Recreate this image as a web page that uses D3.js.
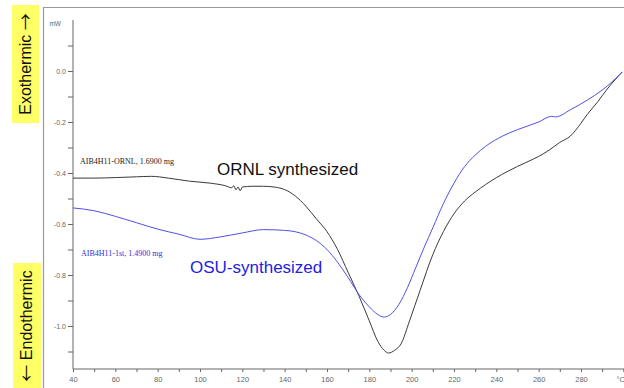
<!DOCTYPE html>
<html><head><meta charset="utf-8">
<script src="https://cdn.jsdelivr.net/npm/d3@7"></script>
<style>body{margin:0;background:#fff}svg{display:block}</style>
</head><body>
<svg id="c" width="624" height="388"></svg>
<script>
const ornlTemp = [40,50,60,70,77,85,95,105,112,115,116,117,118,119,120,125,130,135,140,145,150,155,160,165,170,175,180,184,187,189,192,195,199,204,210,215,220,225,230,235,245,255,260,265,270,275,280,283,288,292,296,299.5];
const ornlVal  = [-0.42,-0.42,-0.418,-0.415,-0.413,-0.42,-0.432,-0.44,-0.45,-0.458,-0.45,-0.466,-0.455,-0.47,-0.455,-0.452,-0.452,-0.455,-0.465,-0.49,-0.53,-0.58,-0.63,-0.7,-0.79,-0.88,-0.98,-1.06,-1.095,-1.106,-1.095,-1.07,-0.98,-0.86,-0.72,-0.63,-0.56,-0.51,-0.475,-0.445,-0.395,-0.355,-0.335,-0.31,-0.28,-0.255,-0.205,-0.17,-0.12,-0.075,-0.035,-0.004];
const osuTemp = [40,50,60,70,80,90,100,110,120,130,140,150,155,160,165,170,175,180,184,187,190,194,198,202,206,210,215,220,225,230,235,243,250,260,266,268,275,283,290,295,299.5];
const osuVal  = [-0.537,-0.548,-0.57,-0.595,-0.62,-0.64,-0.66,-0.65,-0.635,-0.622,-0.625,-0.643,-0.665,-0.7,-0.75,-0.81,-0.875,-0.925,-0.955,-0.965,-0.955,-0.915,-0.85,-0.77,-0.69,-0.615,-0.52,-0.44,-0.375,-0.33,-0.295,-0.255,-0.23,-0.2,-0.178,-0.18,-0.152,-0.114,-0.075,-0.04,-0.004];
const xTickValues = [40,50,60,70,80,90,100,110,120,130,140,150,160,170,180,190,200,210,220,230,240,250,260,270,280,290,300];
const xTickLabels = {40:"40",60:"60",80:"80",100:"100",120:"120",140:"140",160:"160",180:"180",200:"200",220:"220",240:"240",260:"260",280:"280",300:"°C"};
const yTickValues = [0.1,0.0,-0.1,-0.2,-0.3,-0.4,-0.5,-0.6,-0.7,-0.8,-0.9,-1.0,-1.1];
const yTickLabels = {"0.0":"0.0","-0.2":"-0.2","-0.4":"-0.4","-0.6":"-0.6","-0.8":"-0.8","-1.0":"-1.0"};

const svg = d3.select("#c");
const x = d3.scaleLinear().domain([40,300]).range([73,623.3]);
const y = d3.scaleLinear().domain([-1.0,0]).range([326,71]);
const sans = "Arial, 'Liberation Sans', sans-serif";

// side yellow labels
svg.append("rect").attr("x",12).attr("y",5).attr("width",27).attr("height",118).attr("fill","#ffff66");
const t1 = svg.append("text").attr("transform","translate(31,64) rotate(-90)").attr("text-anchor","middle")
  .attr("font-family",sans).attr("font-size",16).attr("fill","#111");
t1.append("tspan").text("Exothermic ");
t1.append("tspan").attr("font-family","'Noto Sans CJK SC', 'DejaVu Sans'").attr("font-size",17).attr("dy",1).text("\u2192");
svg.append("rect").attr("x",13).attr("y",263).attr("width",28).attr("height",125).attr("fill","#ffff66");
const t2 = svg.append("text").attr("transform","translate(32,326) rotate(-90)").attr("text-anchor","middle")
  .attr("font-family",sans).attr("font-size",16).attr("fill","#111");
t2.append("tspan").attr("font-family","'Noto Sans CJK SC', 'DejaVu Sans'").attr("font-size",17).attr("dy",1).text("\u2190");
t2.append("tspan").attr("dy",-1).text(" Endothermic");

// frame
svg.append("path").attr("d","M43.5,390 V7.5 H626").attr("fill","none").attr("stroke","#999").attr("stroke-width",1.2);

// axes
const yAxis = d3.axisLeft(y).tickValues(yTickValues).tickSize(5)
  .tickFormat(d => { const k = d.toFixed(1); return yTickLabels[k] || ""; });
const gy = svg.append("g").attr("transform","translate(73,0)").call(yAxis);
gy.select(".domain").remove();
gy.selectAll(".tick line").attr("stroke","#666");
gy.selectAll(".tick text").attr("font-family",sans).attr("font-size",7).attr("fill","#666").attr("x",-7);
svg.append("line").attr("x1",73).attr("x2",73).attr("y1",20).attr("y2",369).attr("stroke","#666");
svg.append("text").attr("x",61).attr("y",26).attr("text-anchor","end").attr("font-family",sans).attr("font-size",6.5).attr("fill","#666").text("mW");

const xAxis = d3.axisBottom(x).tickValues(xTickValues).tickSize(3).tickFormat(d => xTickLabels[d] || "");
const gx = svg.append("g").attr("transform","translate(0,369)").call(xAxis);
gx.select(".domain").remove();
gx.selectAll(".tick line").attr("stroke","#666");
gx.selectAll(".tick text").attr("font-family",sans).attr("font-size",7.5).attr("fill","#666").attr("y",8);
gx.selectAll(".tick").filter(d => d === 300).select("text").attr("text-anchor","end").attr("x",1);
svg.append("line").attr("x1",73).attr("x2",624).attr("y1",369).attr("y2",369).attr("stroke","#666");

// curves
const line = d3.line().x(d => x(d[0])).y(d => y(d[1])).curve(d3.curveMonotoneX);
svg.append("path").datum(ornlTemp.map((t,i)=>[t,ornlVal[i]])).attr("d",line)
  .attr("fill","none").attr("stroke","#3a3a3a").attr("stroke-width",1);
svg.append("path").datum(osuTemp.map((t,i)=>[t,osuVal[i]])).attr("d",line)
  .attr("fill","none").attr("stroke","#5050e8").attr("stroke-width",1);

// labels
svg.append("text").attr("x",80).attr("y",164).attr("font-family","'Liberation Serif', 'Times New Roman', serif").attr("font-size",8).attr("fill","#222").text("AIB4H11-ORNL, 1.6900 mg");
svg.append("text").attr("x",217).attr("y",175).attr("font-family",sans).attr("font-size",17).attr("fill","#111").text("ORNL synthesized");
svg.append("text").attr("x",81).attr("y",256).attr("font-family","'Liberation Serif', 'Times New Roman', serif").attr("font-size",8).attr("fill","#2f2fd8").text("AIB4H11-1st, 1.4900 mg");
svg.append("text").attr("x",190).attr("y",273).attr("font-family",sans).attr("font-size",17).attr("fill","#2222dd").text("OSU-synthesized");
</script>
</body></html>
